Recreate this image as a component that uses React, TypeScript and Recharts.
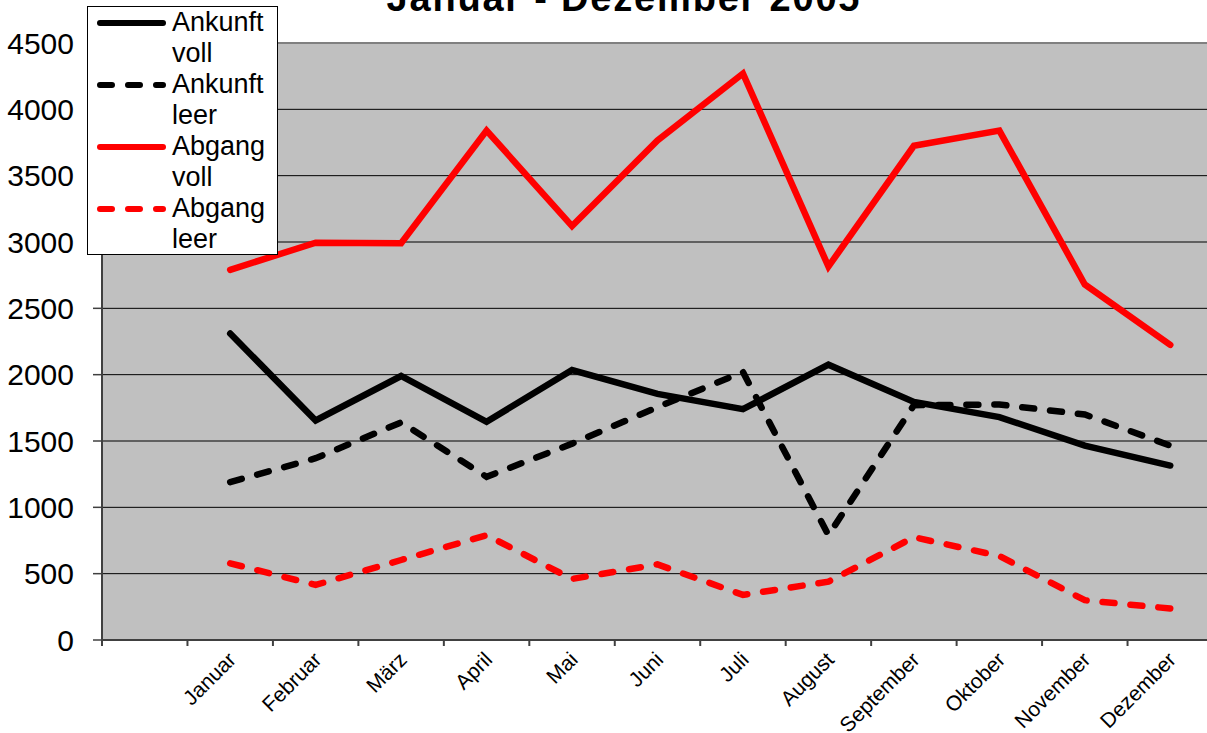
import React from 'react';
import { LineChart, Line, XAxis, YAxis, CartesianGrid, Legend, ReferenceLine, Customized } from 'recharts';

const monate = ['Januar', 'Februar', 'März', 'April', 'Mai', 'Juni', 'Juli', 'August', 'September', 'Oktober', 'November', 'Dezember'];

const ankunftVoll = [2310, 1655, 1990, 1645, 2035, 1855, 1740, 2075, 1795, 1680, 1465, 1315];
const ankunftLeer = [1190, 1370, 1640, 1230, 1480, 1755, 2020, 790, 1770, 1775, 1700, 1465];
const abgangVoll = [2790, 2995, 2990, 3840, 3120, 3765, 4270, 2815, 3725, 3840, 2680, 2225];
const abgangLeer = [578, 415, 603, 790, 460, 570, 340, 440, 775, 633, 300, 237];

const yTicks = [0, 500, 1000, 1500, 2000, 2500, 3000, 3500, 4000, 4500];
const legendOrder = ['Ankunft voll', 'Ankunft leer', 'Abgang voll', 'Abgang leer'];

// first slot on the category axis is empty, like in the original sheet
const data = [
  { monat: '' },
  ...monate.map((m, i) => ({
    monat: m,
    'Ankunft voll': ankunftVoll[i],
    'Ankunft leer': ankunftLeer[i],
    'Abgang voll': abgangVoll[i],
    'Abgang leer': abgangLeer[i],
  })),
];

const FONT = '"Liberation Sans", Arial, sans-serif';
const DASH = '12 16';

const MonthTick = (props: any) => {
  const { x, y, payload, index, width, visibleTicksCount } = props;
  const half = width && visibleTicksCount ? width / visibleTicksCount / 2 : 42.7;
  return (
    <g>
      <line x1={x - half} y1={y} x2={x - half} y2={y + 6} stroke="#404040" strokeWidth={2} />
      {index === visibleTicksCount - 1 && (
        <line x1={x + half} y1={y} x2={x + half} y2={y + 6} stroke="#404040" strokeWidth={2} />
      )}
      <text
        transform={`translate(${x + 7},${y + 21}) rotate(-45)`}
        textAnchor="end"
        fontSize={21}
        fill="#000"
        fontFamily={FONT}
      >
        {payload.value}
      </text>
    </g>
  );
};

const LegendBox = (props: any) => {
  const items = [...(props.payload || [])].sort(
    (a: any, b: any) => legendOrder.indexOf(a.value) - legendOrder.indexOf(b.value)
  );
  return (
    <div
      style={{
        background: '#fff',
        border: '1px solid #000',
        width: 189,
        height: 247,
        fontFamily: FONT,
        fontSize: 27,
        lineHeight: '31px',
        color: '#000',
      }}
    >
      {items.map((entry: any) => (
        <div key={entry.value} style={{ display: 'flex', alignItems: 'flex-start' }}>
          <svg width={84} height={31} style={{ flex: 'none' }}>
            <line
              x1={12}
              y1={16}
              x2={75}
              y2={16}
              stroke={entry.color}
              strokeWidth={6}
              strokeLinecap="round"
              strokeDasharray={entry.payload?.strokeDasharray}
            />
          </svg>
          <div>
            {String(entry.value)
              .split(' ')
              .map((w: string) => (
                <div key={w}>{w}</div>
              ))}
          </div>
        </div>
      ))}
    </div>
  );
};

const Titel = () => (
  <text
    x={623}
    y={11}
    textAnchor="middle"
    fontSize={38}
    fontWeight="bold"
    fontFamily={FONT}
    fill="#000"
    textLength={473}
    lengthAdjust="spacing"
  >
    Januar - Dezember 2005
  </text>
);

export default function App() {
  return (
    <div
      style={{
        position: 'fixed',
        left: 0,
        top: 0,
        width: 1207,
        height: 733,
        overflow: 'hidden',
        background: '#fff',
        fontFamily: FONT,
      }}
    >
      <LineChart width={1220} height={733} data={data} margin={{ top: 43, right: 7, bottom: 0, left: 0 }}>
        <CartesianGrid vertical={false} stroke="#000" fill="#C0C0C0" fillOpacity={1} />
        <XAxis
          dataKey="monat"
          scale="band"
          interval={0}
          height={93}
          tickLine={false}
          tickSize={0}
          tickMargin={0}
          axisLine={{ stroke: '#404040', strokeWidth: 2 }}
          tick={<MonthTick />}
        />
        <YAxis
          domain={[0, 4500]}
          ticks={yTicks}
          width={102}
          tickSize={9}
          tickMargin={19}
          axisLine={{ stroke: '#404040', strokeWidth: 2 }}
          tickLine={{ stroke: '#404040', strokeWidth: 1.5 }}
          tick={{ fontSize: 30, fill: '#000', fontFamily: FONT }}
        />
        <ReferenceLine y={4500} stroke="#808080" strokeWidth={2} />
        <Line dataKey="Ankunft voll" stroke="#000" strokeWidth={6.5} strokeLinecap="round" dot={false} activeDot={false} isAnimationActive={false} />
        <Line dataKey="Ankunft leer" stroke="#000" strokeWidth={6.5} strokeLinecap="round" strokeDasharray={DASH} dot={false} activeDot={false} isAnimationActive={false} />
        <Line dataKey="Abgang voll" stroke="#FF0000" strokeWidth={6.5} strokeLinecap="round" dot={false} activeDot={false} isAnimationActive={false} />
        <Line dataKey="Abgang leer" stroke="#FF0000" strokeWidth={6.5} strokeLinecap="round" strokeDasharray={DASH} dot={false} activeDot={false} isAnimationActive={false} />
        <Legend
          layout="vertical"
          align="center"
          verticalAlign="middle"
          content={<LegendBox />}
          wrapperStyle={{ left: 87, top: 6, width: 191, height: 249 }}
        />
        <Customized component={Titel} />
      </LineChart>
    </div>
  );
}
